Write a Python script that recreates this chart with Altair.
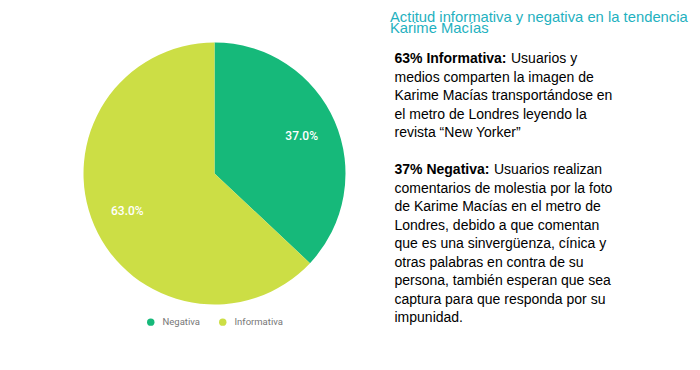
import altair as alt
import pandas as pd

categorias = ["Negativa", "Informativa"]
valores = [37.0, 63.0]
orden = [1, 2]
colores = ["#16B97A", "#CCDE45"]

titulo = ["Actitud informativa y negativa en la tendencia", "Karime Macías"]

p1_negrita = "63% Informativa:"
p1_resto = "Usuarios y"
p1_lineas = [
    "medios comparten la imagen de",
    "Karime Macías transportándose en",
    "el metro de Londres leyendo la",
    "revista \u201cNew Yorker\u201d",
]

p2_negrita = "37% Negativa:"
p2_resto = "Usuarios realizan"
p2_lineas = [
    "comentarios de molestia por la foto",
    "de Karime Macías en el metro de",
    "Londres, debido a que comentan",
    "que es una sinvergüenza, cínica y",
    "otras palabras en contra de su",
    "persona, también esperan que sea",
    "captura para que responda por su",
    "impunidad.",
]

df = pd.DataFrame({"categoria": categorias, "valor": valores, "orden": orden})

CX, CY, R = 206.5, 165.5, 131
FONT = "Liberation Sans, Arial, sans-serif"

base = alt.Chart(df)

pie = base.mark_arc(radius=R).encode(
    theta=alt.Theta("valor:Q", stack=True),
    order=alt.Order("orden:Q"),
    color=alt.Color(
        "categoria:N",
        scale=alt.Scale(domain=categorias, range=colores),
        legend=alt.Legend(
            title=None,
            orient="none",
            direction="horizontal",
            legendX=138,
            legendY=309,
            symbolType="circle",
            symbolSize=55,
            symbolStrokeWidth=0,
            labelFont="Roboto",
            labelFontSize=9.5,
            labelColor="#777777",
            labelOffset=7,
            columnPadding=18,
            padding=0,
        ),
    ),
    x=alt.value(CX),
    y=alt.value(CY),
)

etiquetas = base.mark_text(
    radius=95, color="white", font="Roboto", fontSize=12, fontWeight=500
).transform_calculate(
    etiqueta="format(datum.valor, '.1f') + '%'"
).encode(
    theta=alt.Theta("valor:Q", stack=True),
    order=alt.Order("orden:Q"),
    text="etiqueta:N",
    x=alt.value(CX),
    y=alt.value(CY),
)

one = pd.DataFrame({"k": [0]})


def txt(text, x, y, color="#000000", size=14, weight="normal", lh=18.5):
    return alt.Chart(one).mark_text(
        text=text,
        align="left",
        baseline="alphabetic",
        font=FONT,
        fontSize=size,
        fontWeight=weight,
        color=color,
        lineHeight=lh,
    ).encode(x=alt.value(x), y=alt.value(y))


capas = [
    pie,
    etiquetas,
    txt(titulo, 382, 13.9, color="#1FB1C0", size=14.8, lh=11.2),
    txt(p1_negrita, 386.5, 55.3, weight="bold"),
    txt(p1_resto, 503, 55.3),
    txt(p1_lineas, 386.5, 73.8),
    txt(p2_negrita, 386.5, 166.3, weight="bold"),
    txt(p2_resto, 486, 166.3),
    txt(p2_lineas, 386.5, 184.8),
]

chart = alt.layer(*capas).properties(
    width=684, height=354, padding=0, autosize=alt.AutoSizeParams(type="none")
).configure_view(stroke=None)

chart.save("out.html", embed_options={"renderer": "svg", "actions": False})
